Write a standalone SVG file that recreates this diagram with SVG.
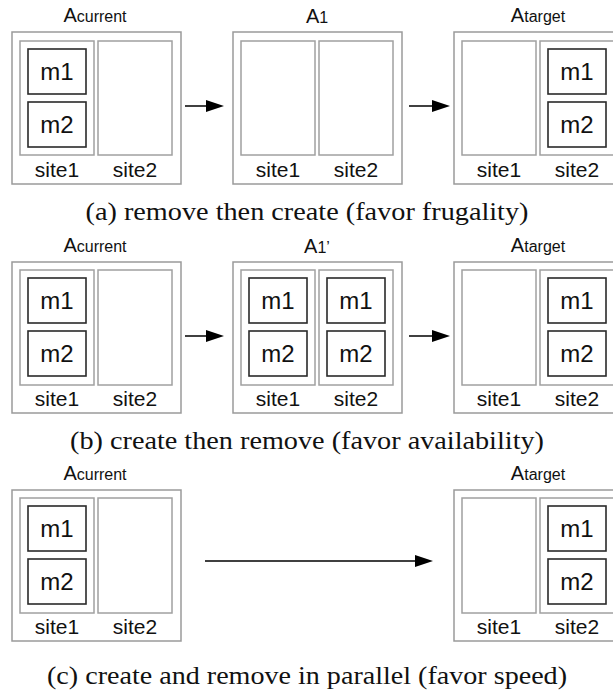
<svg xmlns="http://www.w3.org/2000/svg" width="613" height="690" viewBox="0 0 613 690">
<style>
.outer{fill:#fff;stroke:#9a9a9a;stroke-width:1.5}
.site{fill:#fff;stroke:#a0a0a0;stroke-width:1.5}
.vm{fill:#fff;stroke:#2a2a2a;stroke-width:1.6}
.lbl{font-family:"Liberation Sans",Arial,sans-serif;fill:#111;text-anchor:middle}
.st{font-size:21px}
.mm{font-size:24px}
.ttl{font-size:20px}
.sub{font-size:16px}
.cap{font-family:"Liberation Serif","Times New Roman",serif;font-size:25.5px;fill:#111;text-anchor:middle}
.arr{stroke:#000;stroke-width:1.4;fill:none}
</style>
<defs>
<marker id="ah" markerUnits="userSpaceOnUse" markerWidth="18" markerHeight="12" refX="14" refY="6" orient="auto">
<path d="M0,0 L18,6 L0,12 z" fill="#000"/>
</marker>
</defs>

<!-- Panel (a) -->
<g id="a-current">
<text class="lbl" x="95" y="22"><tspan class="ttl">A</tspan><tspan class="sub">current</tspan></text>
<rect class="outer" x="12" y="32" width="169" height="152"/>
<rect class="site" x="20" y="41" width="74" height="114"/>
<rect class="site" x="98" y="41" width="74" height="114"/>
<rect class="vm" x="28" y="49" width="58" height="45"/>
<rect class="vm" x="28" y="102" width="58" height="45"/>
<text class="lbl mm" x="57" y="80">m1</text>
<text class="lbl mm" x="57" y="133">m2</text>
<text class="lbl st" x="57" y="177">site1</text>
<text class="lbl st" x="135" y="177">site2</text>
</g>
<g id="a-1">
<text class="lbl" x="317" y="23"><tspan class="ttl">A</tspan><tspan class="sub">1</tspan></text>
<rect class="outer" x="233" y="32" width="169" height="152"/>
<rect class="site" x="241" y="41" width="74" height="114"/>
<rect class="site" x="319" y="41" width="74" height="114"/>
<text class="lbl st" x="278" y="177">site1</text>
<text class="lbl st" x="356" y="177">site2</text>
</g>
<g id="a-target">
<text class="lbl" x="538" y="22"><tspan class="ttl">A</tspan><tspan class="sub">target</tspan></text>
<rect class="outer" x="454" y="32" width="169" height="152"/>
<rect class="site" x="462" y="41" width="74" height="114"/>
<rect class="site" x="540" y="41" width="74" height="114"/>
<rect class="vm" x="548" y="49" width="58" height="45"/>
<rect class="vm" x="548" y="102" width="58" height="45"/>
<text class="lbl mm" x="577" y="80">m1</text>
<text class="lbl mm" x="577" y="133">m2</text>
<text class="lbl st" x="499" y="177">site1</text>
<text class="lbl st" x="577" y="177">site2</text>
</g>
<text class="cap" x="307" y="220" textLength="443" lengthAdjust="spacingAndGlyphs">(a) remove then create (favor frugality)</text>

<!-- Panel (b) -->
<g id="b-current">
<text class="lbl" x="95" y="252"><tspan class="ttl">A</tspan><tspan class="sub">current</tspan></text>
<rect class="outer" x="12" y="262" width="169" height="151"/>
<rect class="site" x="20" y="270" width="74" height="115"/>
<rect class="site" x="98" y="270" width="74" height="115"/>
<rect class="vm" x="28" y="278" width="58" height="45"/>
<rect class="vm" x="28" y="331" width="58" height="45"/>
<text class="lbl mm" x="57" y="309">m1</text>
<text class="lbl mm" x="57" y="362">m2</text>
<text class="lbl st" x="57" y="406">site1</text>
<text class="lbl st" x="135" y="406">site2</text>
</g>
<g id="b-1p">
<text class="lbl" x="317" y="253"><tspan class="ttl">A</tspan><tspan class="sub">1’</tspan></text>
<rect class="outer" x="233" y="262" width="169" height="151"/>
<rect class="site" x="241" y="270" width="74" height="115"/>
<rect class="site" x="319" y="270" width="74" height="115"/>
<rect class="vm" x="249" y="278" width="58" height="45"/>
<rect class="vm" x="249" y="331" width="58" height="45"/>
<rect class="vm" x="327" y="278" width="58" height="45"/>
<rect class="vm" x="327" y="331" width="58" height="45"/>
<text class="lbl mm" x="278" y="309">m1</text>
<text class="lbl mm" x="278" y="362">m2</text>
<text class="lbl mm" x="356" y="309">m1</text>
<text class="lbl mm" x="356" y="362">m2</text>
<text class="lbl st" x="278" y="406">site1</text>
<text class="lbl st" x="356" y="406">site2</text>
</g>
<g id="b-target">
<text class="lbl" x="538" y="252"><tspan class="ttl">A</tspan><tspan class="sub">target</tspan></text>
<rect class="outer" x="454" y="262" width="169" height="151"/>
<rect class="site" x="462" y="270" width="74" height="115"/>
<rect class="site" x="540" y="270" width="74" height="115"/>
<rect class="vm" x="548" y="278" width="58" height="45"/>
<rect class="vm" x="548" y="331" width="58" height="45"/>
<text class="lbl mm" x="577" y="309">m1</text>
<text class="lbl mm" x="577" y="362">m2</text>
<text class="lbl st" x="499" y="406">site1</text>
<text class="lbl st" x="577" y="406">site2</text>
</g>
<text class="cap" x="307" y="449" textLength="474" lengthAdjust="spacingAndGlyphs">(b) create then remove (favor availability)</text>

<!-- Panel (c) -->
<g id="c-current">
<text class="lbl" x="95" y="480"><tspan class="ttl">A</tspan><tspan class="sub">current</tspan></text>
<rect class="outer" x="12" y="490" width="169" height="151"/>
<rect class="site" x="20" y="498" width="74" height="115"/>
<rect class="site" x="98" y="498" width="74" height="115"/>
<rect class="vm" x="28" y="506" width="58" height="45"/>
<rect class="vm" x="28" y="559" width="58" height="45"/>
<text class="lbl mm" x="57" y="537">m1</text>
<text class="lbl mm" x="57" y="590">m2</text>
<text class="lbl st" x="57" y="634">site1</text>
<text class="lbl st" x="135" y="634">site2</text>
</g>
<g id="c-target">
<text class="lbl" x="538" y="480"><tspan class="ttl">A</tspan><tspan class="sub">target</tspan></text>
<rect class="outer" x="454" y="490" width="169" height="151"/>
<rect class="site" x="462" y="498" width="74" height="115"/>
<rect class="site" x="540" y="498" width="74" height="115"/>
<rect class="vm" x="548" y="506" width="58" height="45"/>
<rect class="vm" x="548" y="559" width="58" height="45"/>
<text class="lbl mm" x="577" y="537">m1</text>
<text class="lbl mm" x="577" y="590">m2</text>
<text class="lbl st" x="499" y="634">site1</text>
<text class="lbl st" x="577" y="634">site2</text>
</g>
<text class="cap" x="307" y="684" textLength="520" lengthAdjust="spacingAndGlyphs">(c) create and remove in parallel (favor speed)</text>

<g id="connectors">
<line class="arr" x1="185" y1="106" x2="220" y2="106" marker-end="url(#ah)"/>
<line class="arr" x1="409" y1="106" x2="446" y2="106" marker-end="url(#ah)"/>
<line class="arr" x1="185" y1="336" x2="220" y2="336" marker-end="url(#ah)"/>
<line class="arr" x1="409" y1="336" x2="446" y2="336" marker-end="url(#ah)"/>
<line class="arr" x1="205" y1="561" x2="429" y2="561" marker-end="url(#ah)"/>
</g>
</svg>
